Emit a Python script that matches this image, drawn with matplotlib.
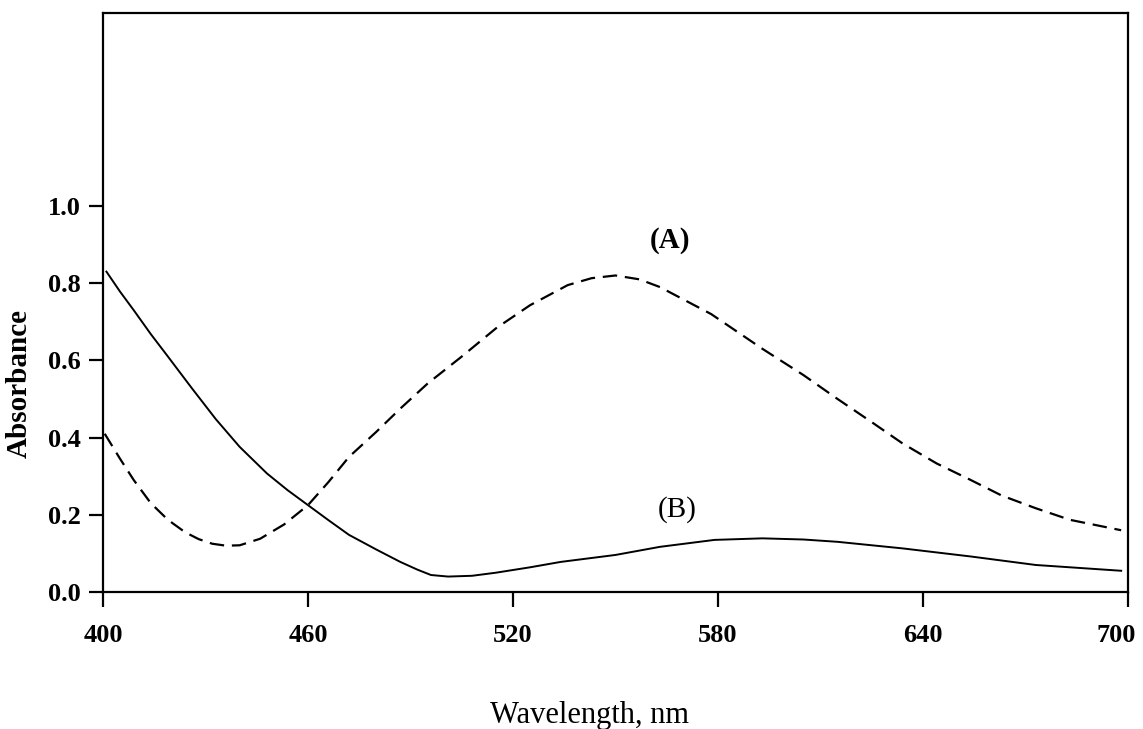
import matplotlib
matplotlib.use("Agg")
import matplotlib.pyplot as plt
import matplotlib.transforms as mtransforms

# Curve (A) - dashed
wl_a = [400.5, 405, 409, 414, 419, 424, 428, 432, 436, 440, 446, 453, 460, 466,
        472, 480, 487, 495, 505, 515, 525, 536, 543, 550, 557, 563, 578, 593,
        605, 615, 625, 634, 644, 654, 663, 673, 683, 698]
abs_a = [0.41, 0.345, 0.29, 0.23, 0.187, 0.155, 0.137, 0.125, 0.12, 0.121,
         0.138, 0.175, 0.225, 0.285, 0.35, 0.415, 0.475, 0.54, 0.61, 0.683,
         0.743, 0.795, 0.813, 0.82, 0.81, 0.79, 0.72, 0.63, 0.562, 0.50, 0.44,
         0.385, 0.333, 0.29, 0.25, 0.217, 0.187, 0.16]

# Curve (B) - solid
wl_b = [401, 405, 409, 414, 419, 426, 433, 440, 448, 454, 460, 466, 472, 480,
        487, 492, 496, 501, 508, 515, 525, 534, 550, 563, 579, 593, 605, 615,
        634, 654, 673, 698]
abs_b = [0.83, 0.778, 0.73, 0.668, 0.61, 0.528, 0.448, 0.376, 0.307, 0.264,
         0.225, 0.186, 0.148, 0.11, 0.078, 0.058, 0.044, 0.040, 0.042, 0.05,
         0.064, 0.078, 0.096, 0.117, 0.135, 0.139, 0.136, 0.13, 0.113, 0.092,
         0.07, 0.055]

x_ticks = [400, 460, 520, 580, 640, 700]
y_ticks = [0.0, 0.2, 0.4, 0.6, 0.8, 1.0]
y_tick_labels = ["0.0", "0.2", "0.4", "0.6", "0.8", "1.0"]

plt.rcParams['font.family'] = ['Liberation Serif', 'DejaVu Serif']

fig = plt.figure(figsize=(11.43, 7.29), dpi=100)
ax = fig.add_axes([103 / 1143, 1 - 592 / 729, (1128 - 103) / 1143, (592 - 13) / 729])

ax.plot(wl_a, abs_a, color='black', lw=1.6, linestyle=(0, (6.5, 3.5)))
ax.plot(wl_b, abs_b, color='black', lw=1.4)

ax.set_xlim(400, 700)
ax.set_ylim(0, 1.5)
ax.set_xticks(x_ticks)
ax.set_xticklabels([str(t) for t in x_ticks], fontsize=19, fontweight='bold')
ax.set_yticks(y_ticks)
ax.set_yticklabels(y_tick_labels, fontsize=19, fontweight='bold')

for s in ax.spines.values():
    s.set_linewidth(1.6)
ax.tick_params(axis='x', direction='out', length=11, width=1.6, pad=12)
ax.tick_params(axis='y', direction='out', length=10, width=1.6, pad=6)

# shift the last x tick label slightly left so it stays inside the figure
last = ax.get_xticklabels()[-1]
last.set_transform(last.get_transform() +
                   mtransforms.ScaledTranslation(-12 / 100, 0, fig.dpi_scale_trans))

ax.set_ylabel("Absorbance", fontsize=21, fontweight='bold')
ax.yaxis.set_label_coords((33 - 103) / 1025, (592 - 384) / 579)
fig.text(590 / 1143, 1 - 716 / 729, "Wavelength, nm", fontsize=22,
         ha='center', va='center')

ax.text(566, (592 - 240) / 386, "(A)", fontsize=21, fontweight='bold',
        ha='center', va='center')
ax.text(568, (592 - 510) / 386, "(B)", fontsize=21, ha='center', va='center')

fig.savefig("out.png", dpi=100)
